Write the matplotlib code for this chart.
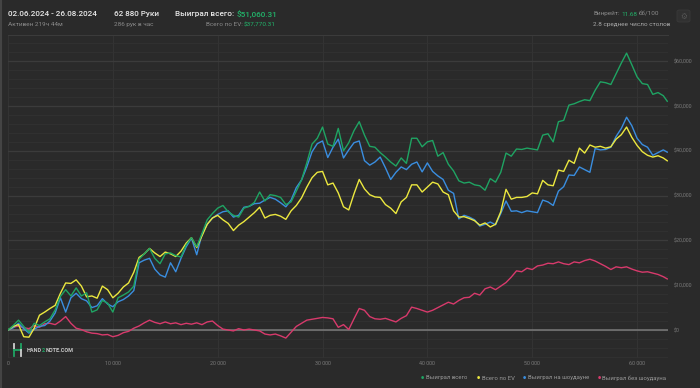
import numpy as np
import matplotlib.pyplot as plt
from matplotlib.lines import Line2D
from matplotlib.patches import FancyBboxPatch

plt.rcParams['font.family'] = ['Roboto', 'DejaVu Sans']

# hands played (x axis)
hands = list(range(0, 63000, 500))[:126] + [62880]

# won total, $k
won_total = [
    0, 1.0, 2.2, 0.8, -0.5, 1.5, 1.0, 1.8, 2.5, 4.5,
    7.5, 9.0, 7.6, 9.4, 7.6, 8.3, 4.0, 4.5, 6.6, 6.0,
    4.0, 7.2, 7.8, 8.5, 9.8, 15.8, 17.0, 18.2, 16.0, 14.8,
    17.0, 17.2, 16.6, 16.3, 19.0, 20.6, 18.6, 21.5, 24.6, 26.0,
    27.2, 27.8, 26.4, 25.6, 25.2, 27.2, 27.6, 28.5, 30.8, 28.8,
    30.2, 30.0, 29.6, 28.0, 28.6, 31.0, 33.5, 37.3, 41.5, 42.8,
    45.3, 41.5, 41.0, 45.0, 40.0, 41.8, 44.5, 46.5, 43.5, 41.0,
    40.8, 39.6, 38.6, 37.5, 36.6, 38.4, 37.2, 42.8, 42.8, 40.9,
    42.0, 42.3, 38.8, 39.6, 37.0, 35.5, 33.3, 32.8, 33.0, 32.4,
    32.2, 31.2, 33.8, 33.0, 35.2, 39.5, 38.8, 40.4, 40.3, 40.6,
    40.4, 40.2, 43.5, 43.8, 42.0, 46.5, 46.8, 50.2, 50.5, 51.0,
    51.4, 51.2, 53.5, 55.4, 55.2, 54.8, 57.2, 59.6, 61.8, 59.2,
    56.5, 55.0, 54.8, 52.6, 53.0, 52.3, 51.06,
]

# all-in EV, $k
won_ev = [
    0, 0.8, 1.2, -1.5, -1.6, 0.4, 3.3, 4.0, 4.8, 5.5,
    8.2, 10.5, 10.4, 11.2, 9.8, 7.4, 7.6, 7.1, 9.8, 9.0,
    7.2, 8.2, 9.6, 10.5, 12.9, 16.2, 17.0, 18.2, 17.2, 16.4,
    17.4, 17.0, 16.4, 17.6, 19.4, 20.6, 18.4, 21.0, 23.6, 25.0,
    25.6, 24.6, 23.8, 22.2, 23.4, 24.2, 25.2, 26.2, 27.4, 25.0,
    25.6, 25.8, 25.4, 24.7, 26.6, 27.8, 29.5, 31.9, 34.0, 35.2,
    35.4, 32.4, 32.8, 30.6, 27.5, 26.8, 30.4, 33.6, 31.5, 30.2,
    29.7, 29.6, 28.0, 27.2, 26.0, 28.6, 29.6, 32.4, 32.4, 30.8,
    31.9, 33.0, 32.6, 30.8, 30.2, 26.6, 25.2, 25.3, 24.9, 24.4,
    23.4, 23.9, 23.0, 23.6, 26.4, 31.4, 29.2, 29.6, 29.6, 29.8,
    30.6, 30.4, 33.4, 32.4, 32.2, 35.7, 35.4, 37.9, 37.2, 40.6,
    39.5, 41.3, 40.8, 41.0, 40.6, 40.9, 42.6, 43.6, 45.3, 43.0,
    41.2, 39.8, 39.0, 38.6, 38.9, 38.4, 37.77,
]

# won at showdown, $k
won_sd = [
    0, 0.5, 1.5, 0.3, -0.7, 0.2, 0.8, 1.0, 2.0, 3.8,
    7.2, 4.0, 7.2, 8.2, 7.0, 6.5, 5.0, 5.4, 7.0, 5.8,
    5.2, 6.3, 6.8, 7.6, 8.8, 15.0, 15.6, 16.0, 13.6, 12.3,
    11.8, 15.0, 13.0, 16.0, 18.6, 20.5, 16.8, 21.4, 23.6, 25.0,
    25.8, 26.4, 26.6, 25.2, 25.6, 27.4, 27.6, 28.2, 28.3, 29.0,
    29.6, 29.2, 28.4, 27.5, 29.0, 31.8, 33.5, 36.4, 39.8, 41.6,
    42.2, 38.5, 40.8, 42.6, 38.4, 40.2, 41.8, 42.2, 37.8, 36.8,
    37.5, 38.6, 36.2, 33.6, 35.2, 36.4, 35.8, 37.0, 37.5, 35.3,
    37.3, 35.4, 34.4, 33.6, 31.2, 30.5, 24.8, 25.6, 25.2, 24.6,
    23.2, 23.6, 24.1, 23.5, 26.0, 28.8, 26.5, 26.6, 26.2, 26.6,
    26.4, 26.2, 29.0, 28.6, 27.8, 31.0, 32.0, 34.6, 34.5, 36.4,
    35.8, 35.2, 40.5, 40.2, 40.3, 40.8, 43.2, 45.0, 47.5, 45.6,
    42.8, 41.4, 40.8, 39.0, 39.6, 40.2, 39.7,
]

# won without showdown, $k
won_nsd = [
    0, 0.6, 0.9, 0.5, 0.3, 1.0, 0.6, 1.4, 1.5, 1.2,
    2.0, 3.0, 1.5, 0.4, 0.1, -0.4, -0.7, -0.8, -1.1, -1.0,
    -1.5, -1.2, -0.6, -0.3, 0.4, 0.9, 1.6, 2.2, 1.7, 1.4,
    1.8, 1.4, 1.6, 1.2, 1.5, 1.3, 1.6, 1.2, 1.8, 2.0,
    1.0, 0.2, 0.0, -0.2, 0.3, 0.0, 0.2, 0.0, -0.2, -0.9,
    -1.1, -0.9, -1.3, -1.8, -0.5, 0.8, 1.5, 2.2, 2.4, 2.6,
    2.8, 2.7, 2.5, 0.6, 1.2, 0.1, 2.5, 4.8, 4.4, 3.0,
    2.5, 2.4, 2.6, 2.2, 1.8, 2.6, 3.2, 5.1, 4.8, 4.4,
    4.0, 4.4, 5.0, 5.6, 6.2, 5.8, 6.6, 7.2, 7.3, 8.2,
    7.8, 9.2, 9.6, 9.0, 9.8, 10.6, 11.8, 13.2, 13.0, 13.8,
    13.5, 14.3, 14.5, 14.9, 14.8, 15.2, 14.8, 14.6, 15.2, 15.0,
    15.5, 15.8, 15.4, 14.8, 14.2, 13.5, 14.1, 13.9, 14.1, 13.6,
    13.2, 12.9, 13.0, 12.7, 12.4, 11.9, 11.4,
]

series_names = ['Выиграл всего', 'Всего по EV', 'Выиграл на шоудауне', 'Выиграл без шоудауна']
series_colors = ['#1fa463', '#ece83f', '#3a8ee0', '#d83a6c']
x_ticks = [0, 10000, 20000, 30000, 40000, 50000, 60000]
y_ticks = [0, 10000, 20000, 30000, 40000, 50000, 60000]

BG = '#2a2a2a'
W, H = 700, 388

fig = plt.figure(figsize=(7, 3.88), dpi=100, facecolor=BG)


def px(x, y):
    return x / W, 1 - y / H


l, b = px(8, 358)
r, t = px(668, 35)
ax = fig.add_axes([l, b, r - l, t - b], facecolor=BG)

for col, vals in zip(series_colors[::-1], [won_nsd, won_sd, won_ev, won_total]):
    ax.plot(hands, np.array(vals) * 1000, color=col, lw=1.0, zorder=3)

ax.set_xlim(0, 62950)
ax.set_ylim(-6250, 65850)

ax.set_yticks(y_ticks)
ax.set_yticks(np.arange(-6000, 66000, 2000), minor=True)
ax.set_yticklabels(['$0' if v == 0 else '${:,}'.format(v) for v in y_ticks])
ax.set_xticks(x_ticks)
ax.set_xticklabels(['{:,}'.format(v).replace(',', ' ') for v in x_ticks])
ax.yaxis.tick_right()
ax.tick_params(which='both', length=0)
ax.tick_params(axis='y', pad=4, labelsize=3.9, labelcolor='#7a7a7a')
ax.tick_params(axis='x', pad=2.5, labelsize=3.9, labelcolor='#7a7a7a')

ax.grid(which='major', axis='y', color='#3b3b3b', lw=0.9, zorder=0)
ax.grid(which='minor', axis='y', color='#323232', lw=0.6, zorder=0)
ax.grid(which='major', axis='x', color='#343434', lw=0.7, zorder=0)
ax.axhline(0, color='#7a7a7a', lw=1.1, zorder=2)
for s in ['left', 'bottom', 'right']:
    ax.spines[s].set_visible(False)
ax.spines['top'].set_color('#3b3b3b')
ax.spines['top'].set_linewidth(0.8)

renderer = fig.canvas.get_renderer()


def seq_text(x, y, parts, size, weight='normal', ha='left'):
    # multi-colour text, parts laid out one after another
    gap = size * 0.27 / 72 * 100 / W
    xf, yf = px(x, y)
    seq = parts if ha == 'left' else parts[::-1]
    for s, c in seq:
        if ha == 'left' and s.startswith(' '):
            xf += gap
        if ha == 'right' and s.endswith(' '):
            xf -= gap
        tx = fig.text(xf, yf, s.strip(), color=c, fontsize=size, fontweight=weight,
                      ha=ha, va='center')
        bb = tx.get_window_extent(renderer)
        xf = (bb.x1 if ha == 'left' else bb.x0) / W
        if ha == 'left' and s.endswith(' '):
            xf += gap
        if ha == 'right' and s.startswith(' '):
            xf -= gap


WHITE = '#e8e8e8'
GREY = '#8a8a8a'
GREEN = '#22b36a'

seq_text(8, 14, [('02.06.2024 - 26.08.2024', WHITE)], 5.9, 'medium')
seq_text(8, 24.5, [('Активен 219ч 44м', GREY)], 4.6)
seq_text(114, 14, [('62 880 Руки', WHITE)], 5.9, 'medium')
seq_text(114, 24.5, [('286 рук в час', GREY)], 4.6)
seq_text(175, 14, [('Выиграл всего: ', WHITE), ('$51,060.31', GREEN)], 5.9, 'medium')
seq_text(276, 24.5, [('Всего по EV: ', GREY), ('$37,770.31', GREEN)], 4.6, ha='right')
seq_text(593, 14, [('Винрейт: ', GREY), ('11.68', GREEN), (' бб/100', GREY)], 4.6)
seq_text(593, 24.5, [('2.8 среднее число столов', '#a8a8a8')], 4.6)

# gear button
gx, gy = px(677, 10)
fig.patches.append(FancyBboxPatch((gx, gy - 12 / H), 13 / W, 12 / H,
                                  boxstyle='round,pad=0,rounding_size=0.004',
                                  transform=fig.transFigure, facecolor='#313131',
                                  edgecolor='#3a3a3a', lw=0.6))
fig.text(*px(683.5, 16.5), '\u2699', family='DejaVu Sans', fontsize=5.5,
         color='#555555', ha='center', va='center')

# legend
leg_x = [421, 477, 523, 598]
for x0, name, col in zip(leg_x, series_names, series_colors):
    fig.text(*px(x0, 378), '\u25cf', family='DejaVu Sans', fontsize=2.6,
             color=col, ha='left', va='center')
    seq_text(x0 + 4.5, 378, [(name, '#9a9a9a')], 4.2)


# logo
def fline(x0, y0, x1, y1, col, lw):
    a, bb = px(x0, y0)
    c, d = px(x1, y1)
    fig.add_artist(Line2D([a, c], [bb, d], color=col, lw=lw, transform=fig.transFigure))


fline(14, 344, 14, 350, '#d0d0d0', 1.3)
fline(14, 350, 14, 356, '#1fa463', 1.3)
fline(14, 350, 21, 350, '#1fa463', 1.3)
fline(21, 344, 21, 350, '#1fa463', 1.3)
fline(21, 350, 21, 356, '#d0d0d0', 1.3)
seq_text(27, 350, [('HAND', '#c8c8c8'), ('2', '#1fa463'), ('NOTE.COM', '#c8c8c8')], 4.0, 'bold')

# thin lighter frame at the left edge
fline(0.5, 0, 0.5, 388, '#444444', 1.5)

fig.savefig('out.png', dpi=100, facecolor=BG)
